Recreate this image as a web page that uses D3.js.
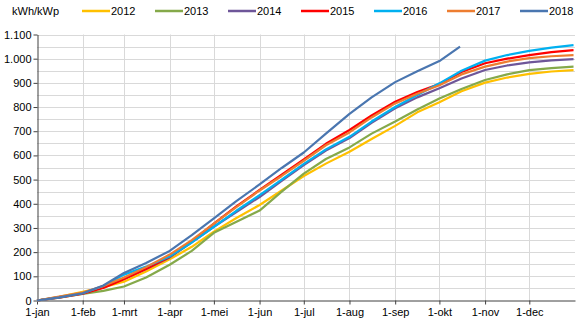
<!DOCTYPE html>
<html>
<head>
<meta charset="utf-8">
<script src="https://cdn.jsdelivr.net/npm/d3@7"></script>
<style>
  html, body { margin: 0; padding: 0; background: #fff; }
  svg { display: block; font-family: "Liberation Sans", Arial, sans-serif; }
</style>
</head>
<body>
<svg id="chart" width="580" height="324"></svg>
<script>
// Cumulative yield per installed kWp, sampled on day-of-year
const days = [0, 15, 31, 45, 59, 74, 90, 105, 120, 135, 151, 166, 181, 196, 212, 227, 243, 258, 273, 288, 304, 319, 334, 349, 364];
const days2018 = [0, 15, 31, 45, 59, 74, 90, 105, 120, 135, 151, 166, 181, 196, 212, 227, 243, 258, 273, 287];

const y2012 = [0, 15, 36, 55, 78, 120, 170, 222, 285, 340, 395, 455, 515, 566, 615, 668, 722, 778, 820, 865, 901, 922, 937, 947, 953];
const y2013 = [0, 12, 27, 40, 58, 95, 148, 205, 280, 325, 372, 450, 525, 585, 633, 690, 740, 790, 835, 875, 912, 935, 953, 961, 967];
const y2014 = [0, 14, 30, 55, 90, 130, 178, 240, 305, 365, 428, 495, 560, 620, 672, 735, 795, 840, 878, 918, 953, 972, 985, 993, 998];
const y2015 = [0, 12, 28, 52, 88, 130, 180, 245, 318, 388, 457, 520, 583, 648, 705, 765, 822, 862, 895, 945, 981, 1000, 1015, 1027, 1035];
const y2016 = [0, 13, 30, 60, 107, 140, 182, 240, 305, 370, 436, 500, 565, 625, 677, 740, 800, 850, 898, 950, 992, 1015, 1032, 1046, 1056];
const y2017 = [0, 16, 33, 60, 95, 138, 190, 250, 318, 385, 455, 515, 578, 642, 695, 757, 815, 855, 890, 935, 967, 988, 1002, 1010, 1015];
const y2018 = [0, 13, 30, 62, 114, 155, 205, 270, 340, 410, 480, 548, 612, 690, 772, 840, 903, 948, 990, 1050];

const seriesNames = ["2012", "2013", "2014", "2015", "2016", "2017", "2018"];
const seriesColors = ["#FFC000", "#85A94A", "#6E5699", "#FF0000", "#00B0F0", "#ED7D31", "#4A76B0"];

const monthStarts = [0, 31, 59, 90, 120, 151, 181, 212, 243, 273, 304, 334];
const monthLabels = ["1-jan", "1-feb", "1-mrt", "1-apr", "1-mei", "1-jun", "1-jul", "1-aug", "1-sep", "1-okt", "1-nov", "1-dec"];
const yTicks = [0, 100, 200, 300, 400, 500, 600, 700, 800, 900, 1000, 1100];
const yGrid = d3.range(50, 1101, 50);
const unitLabel = "kWh/kWp";

const series = [
  { name: seriesNames[0], color: seriesColors[0], x: days, y: y2012 },
  { name: seriesNames[1], color: seriesColors[1], x: days, y: y2013 },
  { name: seriesNames[2], color: seriesColors[2], x: days, y: y2014 },
  { name: seriesNames[3], color: seriesColors[3], x: days, y: y2015 },
  { name: seriesNames[4], color: seriesColors[4], x: days, y: y2016 },
  { name: seriesNames[5], color: seriesColors[5], x: days, y: y2017 },
  { name: seriesNames[6], color: seriesColors[6], x: days2018, y: y2018 }
];

const svg = d3.select("#chart");
const plotLeft = 37, plotRight = 575, plotTop = 34.5, plotBottom = 300.5;

const x = d3.scaleLinear().domain([0, 365]).range([plotLeft, plotRight]);
const y = d3.scaleLinear().domain([0, 1100]).range([plotBottom, plotTop]);

const nl = d3.formatLocale({ decimal: ",", thousands: ".", grouping: [3], currency: ["€", ""] });
const fmt = nl.format(",d");

// gridlines
const grid = svg.append("g").attr("stroke", "#d9d9d9").attr("stroke-width", 1);
grid.selectAll("line.h").data(yGrid).join("line")
  .attr("x1", plotLeft).attr("x2", plotRight)
  .attr("y1", d => Math.round(y(d)) + 0.5).attr("y2", d => Math.round(y(d)) + 0.5);
grid.selectAll("line.v").data(monthStarts.slice(1)).join("line")
  .attr("x1", d => Math.round(x(d)) + 0.5).attr("x2", d => Math.round(x(d)) + 0.5)
  .attr("y1", plotTop).attr("y2", plotBottom);

// y axis
const yAxis = svg.append("g")
  .attr("transform", `translate(${plotLeft + 0.5},0)`)
  .call(d3.axisLeft(y).tickValues(yTicks).tickFormat(fmt).tickSize(4).tickPadding(2).tickSizeOuter(0));
yAxis.select(".domain").attr("stroke", "#404040");
yAxis.selectAll(".tick line").attr("stroke", "#404040");
yAxis.selectAll(".tick text").attr("font-size", 11).attr("fill", "#000")
  .attr("font-family", "Liberation Sans, Arial, sans-serif");

// x axis
const xAxis = svg.append("g")
  .attr("transform", `translate(0,${plotBottom})`)
  .call(d3.axisBottom(x).tickValues(monthStarts).tickFormat((d, i) => monthLabels[i]).tickSize(4).tickPadding(4).tickSizeOuter(0));
xAxis.select(".domain").attr("stroke", "#404040");
xAxis.selectAll(".tick line").attr("stroke", "#404040");
xAxis.selectAll(".tick text").attr("font-size", 11).attr("fill", "#000")
  .attr("font-family", "Liberation Sans, Arial, sans-serif");

// series lines
const line = d3.line().x(d => x(d[0])).y(d => y(d[1]));
svg.append("g").selectAll("path").data(series).join("path")
  .attr("fill", "none")
  .attr("stroke", d => d.color)
  .attr("stroke-width", 2.2)
  .attr("stroke-linejoin", "round")
  .attr("d", d => line(d.x.map((v, i) => [v, d.y[i]])));

// unit label and legend
svg.append("text").attr("x", 12).attr("y", 15).attr("font-size", 11).text(unitLabel);
const legend = svg.append("g");
const lg = legend.selectAll("g").data(series).join("g")
  .attr("transform", (d, i) => `translate(${82 + i * 73},11)`);
lg.append("line").attr("x1", 0).attr("x2", 28).attr("y1", 0).attr("y2", 0)
  .attr("stroke", d => d.color).attr("stroke-width", 2.5);
lg.append("text").attr("x", 29).attr("y", 4).attr("font-size", 11).text(d => d.name);
</script>
</body>
</html>
